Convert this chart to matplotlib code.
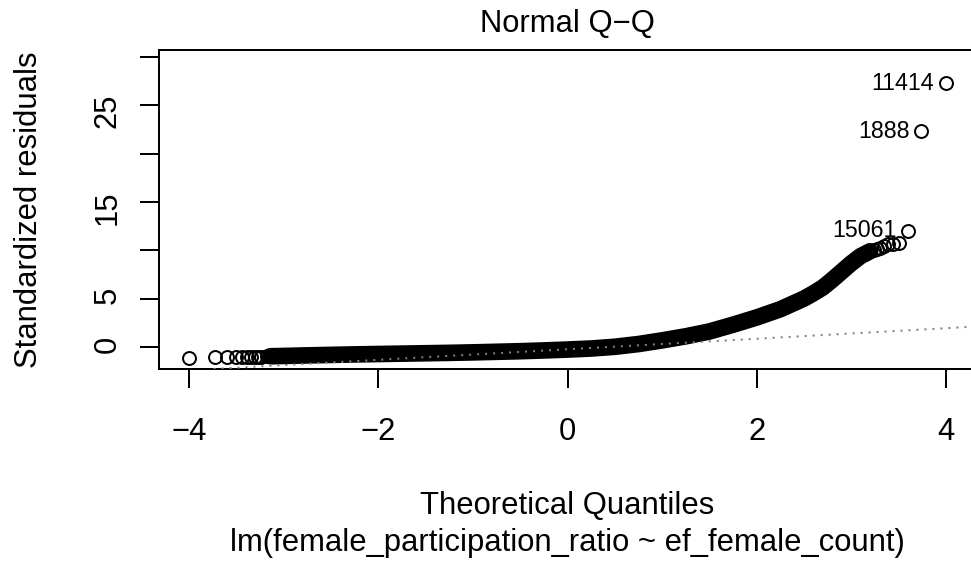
import matplotlib
matplotlib.use("Agg")
import matplotlib.pyplot as plt

plt.rcParams['font.family'] = ['Liberation Sans', 'DejaVu Sans']

# solid body of the Q-Q cloud (centre line of the overplotted band)
band_q = [-3.14, -3.0, -2.75, -2.5, -2.25, -2.0, -1.75, -1.5, -1.25, -1.0, -0.75, -0.5, -0.25,
		0.0, 0.25, 0.5, 0.75, 1.0, 1.25, 1.5, 1.75, 2.0, 2.25, 2.5, 2.6, 2.7, 2.8, 2.9, 3.0, 3.1, 3.2]
band_resid = [-0.96, -0.93, -0.87, -0.82, -0.77, -0.73, -0.69, -0.65, -0.61, -0.56, -0.50, -0.44, -0.36,
		-0.27, -0.16, 0.02, 0.30, 0.68, 1.10, 1.60, 2.30, 3.05, 3.90, 5.00, 5.55, 6.15, 6.95, 7.80, 8.65, 9.40, 9.90]

# single points that are still visible in the tails
low_q = [-4.00, -3.73, -3.60, -3.51, -3.44, -3.39, -3.35, -3.31, -3.27, -3.24, -3.18]
low_resid = [-1.10, -1.08, -1.06, -1.05, -1.04, -1.03, -1.02, -1.01, -1.00, -0.99, -0.98]
high_q = [3.24, 3.27, 3.31, 3.35, 3.39, 3.44, 3.51]
high_resid = [10.00, 10.10, 10.25, 10.45, 10.60, 10.70, 10.80]

# labelled outliers
outlier_id = ["15061", "1888", "11414"]
outlier_q = [3.60, 3.74, 4.00]
outlier_resid = [12.0, 22.3, 27.3]

# reference line through the quartiles
line_intercept = -0.24
line_slope = 0.545

x_ticks = [-4, -2, 0, 2, 4]
y_ticks = [0, 5, 10, 15, 20, 25, 30]
y_labels = ["0", "5", "", "15", "", "25", ""]

W, H = 971, 564
FS = 22.3
LW = 1.44

fig = plt.figure(figsize=(W / 100, H / 100), dpi=100)
ax = fig.add_axes([159 / W, (H - 369) / H, 817 / W, 319 / H])

ring = dict(linestyle='none', marker='o', markersize=9.3, markerfacecolor='none',
		markeredgecolor='black', markeredgewidth=LW)

ax.plot(band_q, band_resid, color='black', lw=12, solid_capstyle='round', solid_joinstyle='round')
ax.plot(low_q, low_resid, **ring)
ax.plot(high_q, high_resid, **ring)
ax.plot(outlier_q, outlier_resid, **ring)
ax.axline((0, line_intercept), slope=line_slope, color='#7f7f7f', lw=LW,
		linestyle=(0, (1, 3)), zorder=5)

for name, q, r in zip(outlier_id, outlier_q, outlier_resid):
	ax.annotate(name, (q, r), xytext=(-8.4, 0), textcoords='offset points',
			ha='right', va='center', fontsize=FS * 0.75)

ax.set_xlim(-4.32, 4.32)
ax.set_ylim(-2.28, 30.72)
ax.set_xticks(x_ticks)
ax.set_xticklabels([str(t).replace('-', '\u2212') for t in x_ticks], fontsize=FS)
ax.set_yticks(y_ticks)
ax.set_yticklabels(y_labels, fontsize=FS, rotation=90)
ax.tick_params(axis='both', direction='out', length=13.7, width=LW)
ax.tick_params(axis='x', pad=20.5)
ax.tick_params(axis='y', pad=12.7)
for s in ax.spines.values():
	s.set_linewidth(LW)

fig.text(567.5 / W, 1 - 32.3 / H, "Normal Q\u2212Q", ha='center', va='baseline', fontsize=FS)
fig.text(567.5 / W, 1 - 514 / H, "Theoretical Quantiles", ha='center', va='baseline', fontsize=FS)
fig.text(567.5 / W, 1 - 551.5 / H, "lm(female_participation_ratio ~ ef_female_count)",
		ha='center', va='baseline', fontsize=FS)
fig.text(37 / W, 1 - 209.5 / H, "Standardized residuals", rotation=90, rotation_mode='anchor',
		ha='center', va='baseline', fontsize=FS)

fig.savefig('out.png', dpi=100)
